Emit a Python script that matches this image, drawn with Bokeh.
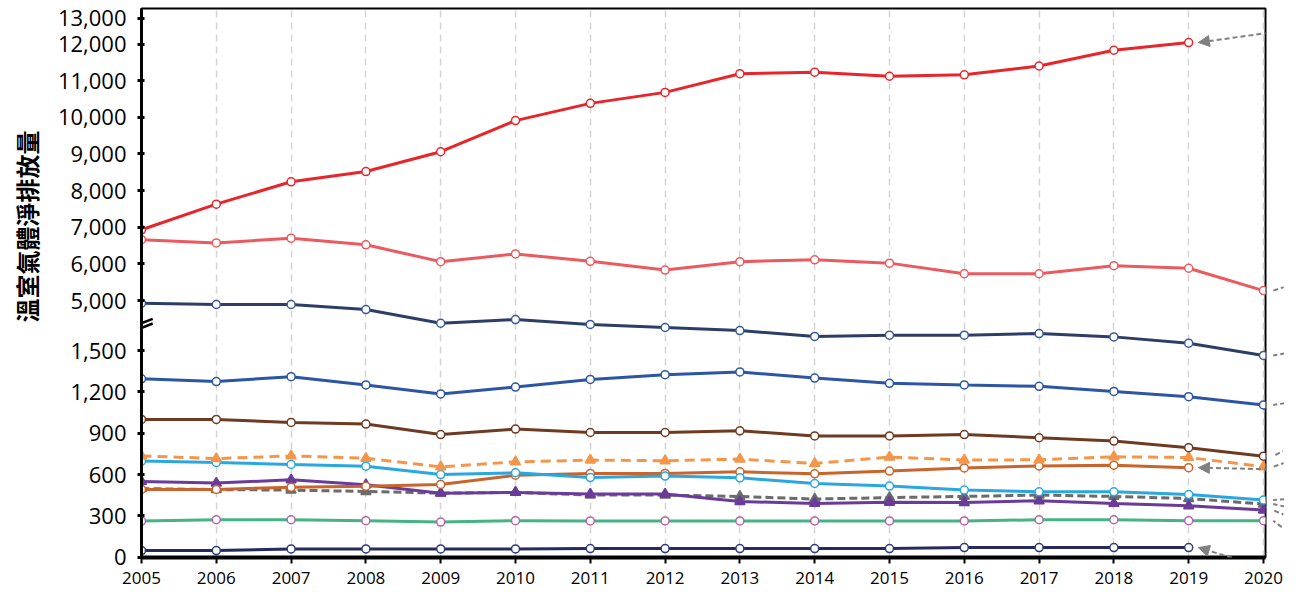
import numpy as np
from bokeh.plotting import figure
from bokeh.models import Range1d, FixedTicker, Arrow, NormalHead, Title
from bokeh.embed import file_html
from bokeh.resources import INLINE

# ---------------- data ----------------
years = list(range(2005, 2021))

red_vals = [6930, 7630, 8240, 8520, 9060, 9910, 10380, 10680, 11190, 11230, 11120, 11160, 11400, 11830, 12040]
pink_vals = [6660, 6570, 6700, 6520, 6060, 6270, 6070, 5830, 6060, 6110, 6020, 5730, 5730, 5950, 5880, 5270]
navy_vals = [1843, 1834, 1834, 1797, 1698, 1725, 1689, 1667, 1645, 1602, 1611, 1611, 1623, 1599, 1553, 1464]
blue_vals = [1295, 1275, 1310, 1250, 1185, 1235, 1290, 1325, 1345, 1300, 1262, 1250, 1240, 1203, 1165, 1105]
brown_vals = [1000, 1000, 978, 966, 890, 930, 905, 905, 917, 880, 880, 890, 867, 843, 795, 733]
orange_dash_vals = [735, 716, 735, 718, 656, 692, 705, 700, 712, 680, 727, 705, 707, 729, 724, 656]
orange_vals = [492, 492, 508, 515, 528, 595, 608, 608, 620, 605, 625, 648, 662, 668, 650]
cyan_vals = [698, 688, 673, 661, 600, 613, 578, 589, 576, 535, 516, 487, 475, 475, 455, 415]
purple_vals = [550, 538, 562, 526, 465, 470, 458, 458, 404, 390, 399, 397, 409, 390, 373, 342]
gray_vals = [498, 491, 487, 477, 465, 470, 451, 451, 441, 422, 433, 441, 451, 441, 426, 386]
green_vals = [262, 272, 272, 265, 255, 265, 263, 263, 263, 263, 263, 263, 272, 272, 265, 265]
dark_vals = [48, 48, 60, 60, 60, 60, 63, 63, 63, 63, 63, 70, 70, 70, 70]

y_low_ticks = [0, 300, 600, 900, 1200, 1500]
y_high_ticks = [5000, 6000, 7000, 8000, 9000, 10000, 11000, 12000]
y_top_label = 13000
y_title = "溫室氣體淨排放量"

# ---------------- broken-axis mapping ----------------
LOW_LIMIT = 2500
TOP_BASE = 5000
TOP_BASE_POS = 1863.0
TOP_SCALE = 0.2659
BREAK_POS = 1681.0
TOP_LABEL_NUDGE = 80  # the top label sits slightly under the frame edge


def disp(v):
    return float(v) if v < LOW_LIMIT else TOP_BASE_POS + (v - TOP_BASE) * TOP_SCALE


# ---------------- figure ----------------
p = figure(width=1298, height=600, output_backend="svg", toolbar_location=None,
           x_range=Range1d(2005, 2020.027), y_range=Range1d(-2, 3982),
           min_border_left=141, min_border_right=33, min_border_top=8, min_border_bottom=43)
p.background_fill_color = "white"
p.border_fill_color = "white"
p.outline_line_color = "black"
p.outline_line_width = 2

# x axis
p.xaxis.ticker = FixedTicker(ticks=years)
p.xaxis.axis_line_width = 4
p.xaxis.axis_line_color = "black"
p.xaxis.major_tick_line_color = "black"
p.xaxis.major_tick_line_width = 2
p.xaxis.major_tick_out = 6
p.xaxis.major_tick_in = 0
p.xaxis.minor_tick_line_color = None
p.xaxis.major_label_text_font = "Open Sans"
p.xaxis.major_label_text_font_size = "17px"
p.xaxis.major_label_text_color = "black"
p.xaxis.major_label_standoff = 8

# y axis
ytick_vals = y_low_ticks + y_high_ticks
ytick_pos = [disp(v) for v in ytick_vals]
ytick_text = [f"{v:,}" for v in ytick_vals]
ytick_pos.append(disp(y_top_label) - TOP_LABEL_NUDGE)
ytick_text.append(f"{y_top_label:,}")
p.yaxis.ticker = FixedTicker(ticks=ytick_pos)
p.yaxis.major_label_overrides = dict(zip(ytick_pos, ytick_text))
p.yaxis.axis_line_width = 3
p.yaxis.axis_line_color = "black"
p.yaxis.major_tick_line_color = "black"
p.yaxis.major_tick_line_width = 3
p.yaxis.major_tick_out = 4
p.yaxis.major_tick_in = 3
p.yaxis.minor_tick_line_color = None
p.yaxis.major_label_text_font = "Open Sans"
p.yaxis.major_label_text_font_size = "22px"
p.yaxis.major_label_text_color = "black"
p.yaxis.major_label_standoff = 11
p.yaxis.axis_label = " "
p.yaxis.axis_label_text_font_size = "2px"
p.yaxis.axis_label_standoff = 1

p.add_layout(Title(text=y_title, align="right", offset=122, text_font="Noto Sans CJK TC",
                   text_font_style="bold", text_font_size="24px", text_color="black"), "left")

p.xgrid.grid_line_color = "#D4D4D4"
p.xgrid.grid_line_width = 1.5
p.xgrid.grid_line_dash = "7 5"
p.ygrid.grid_line_color = None

# axis break marks
for dy in (-17, 17):
    p.add_layout(Arrow(start=None, end=None, x_start=2005 - 0.15, y_start=BREAK_POS + dy - 32,
                       x_end=2005 + 0.15, y_end=BREAK_POS + dy + 32,
                       line_color="black", line_width=2.5))

# ---------------- series ----------------
series = [
    # values, line color, dash, marker, marker line, marker fill, arrow dy (display units)
    (green_vals, "#45B383", "solid", "circle", "#B463B4", "white", -152),
    (dark_vals, "#262A5C", "solid", "circle", "#2E3D7A", "white", -225),
    (gray_vals, "#6B6B6B", "8 4", "triangle", "#6B6B6B", "#6B6B6B", -44),
    (purple_vals, "#6A3B98", "solid", "triangle", "#6A3B98", "#6A3B98", -87),
    (orange_vals, "#C8642C", "solid", "circle", "#C8642C", "white", -17),
    (cyan_vals, "#2AA7DF", "solid", "circle", "#2AA7DF", "white", 15),
    (orange_dash_vals, "#F3964A", "10 6", "triangle", "#F3964A", "#F3964A", 73),
    (brown_vals, "#6F3A22", "solid", "circle", "#6F3A22", "white", 109),
    (blue_vals, "#2C56A3", "solid", "circle", "#2C56A3", "white", 31),
    (navy_vals, "#2D3E66", "solid", "circle", "#3A5A96", "white", 38),
    (pink_vals, "#EA5A5F", "solid", "circle", "#EA5A5F", "white", 65),
    (red_vals, "#E8252A", "solid", "circle", "#E8252A", "white", 103),
]

for vals, col, dash, mk, mline, mfill, ady in series:
    xs = years[:len(vals)]
    ys = [disp(v) for v in vals]
    p.line(xs, ys, line_color=col, line_width=3, line_dash=dash)
    size = 10 if mk == "triangle" else 8
    p.scatter(xs, ys, marker=mk, size=size, line_color=mline, fill_color=mfill, line_width=1.5)
    # pointer arrow from the (cropped) label area on the right
    ex = xs[-1] + 0.13
    ey = ys[-1]
    p.add_layout(Arrow(end=NormalHead(size=11, fill_color="#808080", line_color="#808080"),
                       x_start=2020.5, y_start=ey + ady, x_end=ex, y_end=ey,
                       line_color="#808080", line_width=2, line_dash="5 3"))

open("out.html", "w").write(file_html(p, INLINE))
